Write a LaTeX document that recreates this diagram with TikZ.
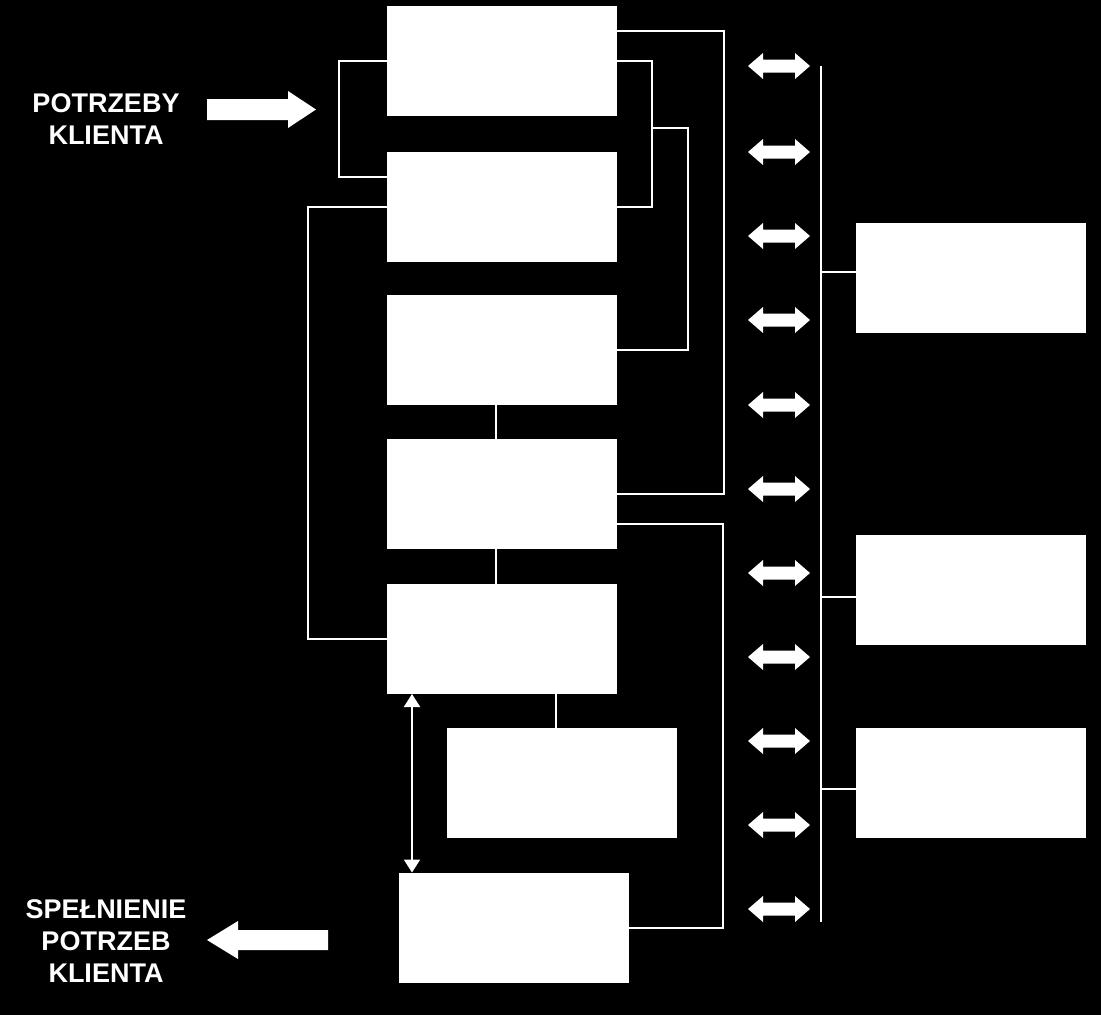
\documentclass[tikz,border=0pt]{standalone}
\usepackage{fontspec}
\setmainfont{Liberation Sans}
\usetikzlibrary{arrows.meta}
\begin{document}
\begin{tikzpicture}[x=1pt,y=-1pt,
  box/.style={fill=white, minimum width=230pt, minimum height=110pt, inner sep=0pt, outer sep=0pt},
  wire/.style={white, line width=2pt},
  bigarrow/.style={fill=white},
  lbl/.style={text=white, font=\fontsize{27}{32}\selectfont\bfseries, align=center, inner sep=0pt}
]
\fill[black] (0,0) rectangle (1101,1015);
\useasboundingbox (0,0) rectangle (1101,1015);

% boxes
\node[box] (b1) at (502,61) {};
\node[box] (b2) at (502,206.5) {};
\node[box] (b3) at (502,350) {};
\node[box] (b4) at (502,494) {};
\node[box] (b5) at (502,639) {};
\node[box] (b6) at (562,783) {};
\node[box] (b7) at (514,927.5) {};
\node[box] (r1) at (971,278) {};
\node[box] (r2) at (971,589.5) {};
\node[box] (r3) at (971,783) {};

% helper coordinates
\coordinate (k1) at (724,494);
\coordinate (k2) at (652,206.5);
\coordinate (k3) at (652,128);
\coordinate (k4) at (688,350);
\coordinate (k5) at (339,176.5);
\coordinate (k6) at (308,639);
\coordinate (k7) at (723,927.5);
\coordinate (ax) at (412,0);
\coordinate (bt) at (821,66);
\coordinate (bb) at (821,922);
\coordinate (j1) at (821,272);
\coordinate (j2) at (821,597);
\coordinate (j3) at (821,789);

% connectors
\draw[wire] ([yshift=-25pt]b1.north east) -| (k1) -- (b4.east);
\draw[wire] (b1.east) -| (k2) -- (b2.east);
\draw[wire] (k3) -| (k4) -- (b3.east);
\draw[wire] (b1.west) -| (k5) -- ([yshift=-25pt]b2.north west);
\draw[wire] (b2.west) -| (k6) -- (b5.west);
\draw[wire] ([xshift=-6pt]b3.south) -- ([xshift=-6pt]b4.north);
\draw[wire] ([xshift=-6pt]b4.south) -- ([xshift=-6pt]b5.north);
\draw[wire] ([xshift=54pt]b5.south) -- ([xshift=-6pt]b6.north);
\draw[wire] ([yshift=25pt]b4.south east) -| (k7) -- (b7.east);
\draw[wire, {Triangle[width=16pt,length=13pt]}-{Triangle[width=16pt,length=13pt]}]
  (b5.south -| ax) -- (b7.north -| ax);

% bus
\draw[wire] (bt) -- (bb);
\draw[wire] (j1) -- (j1 -| r1.west);
\draw[wire] (j2) -- (j2 -| r2.west);
\draw[wire] (j3) -- (j3 -| r3.west);

% double arrows
\foreach \y in {66,152,236,320,405,489,573,657,741,825,909}
  \fill[white] (748,\y) -- ++(15,-13) -- ++(0,6.5) -- ++(32,0) -- ++(0,-6.5)
    -- ++(15,13) -- ++(-15,13) -- ++(0,-6.5) -- ++(-32,0) -- ++(0,6.5) -- cycle;

% big arrows
\fill[bigarrow] (207,99) -- (288,99) -- (288,91) -- (316,109.5) -- (288,128) -- (288,120) -- (207,120) -- cycle;
\fill[bigarrow] (328,930) -- (238,930) -- (238,921) -- (207,940) -- (238,959) -- (238,950) -- (328,950) -- cycle;

% labels
\node[lbl, anchor=north] (t1) at (106,93) {POTRZEBY\\KLIENTA};
\node[lbl, anchor=north] (t2) at (106,899) {SPEŁNIENIE\\POTRZEB\\KLIENTA};
\end{tikzpicture}
\end{document}
